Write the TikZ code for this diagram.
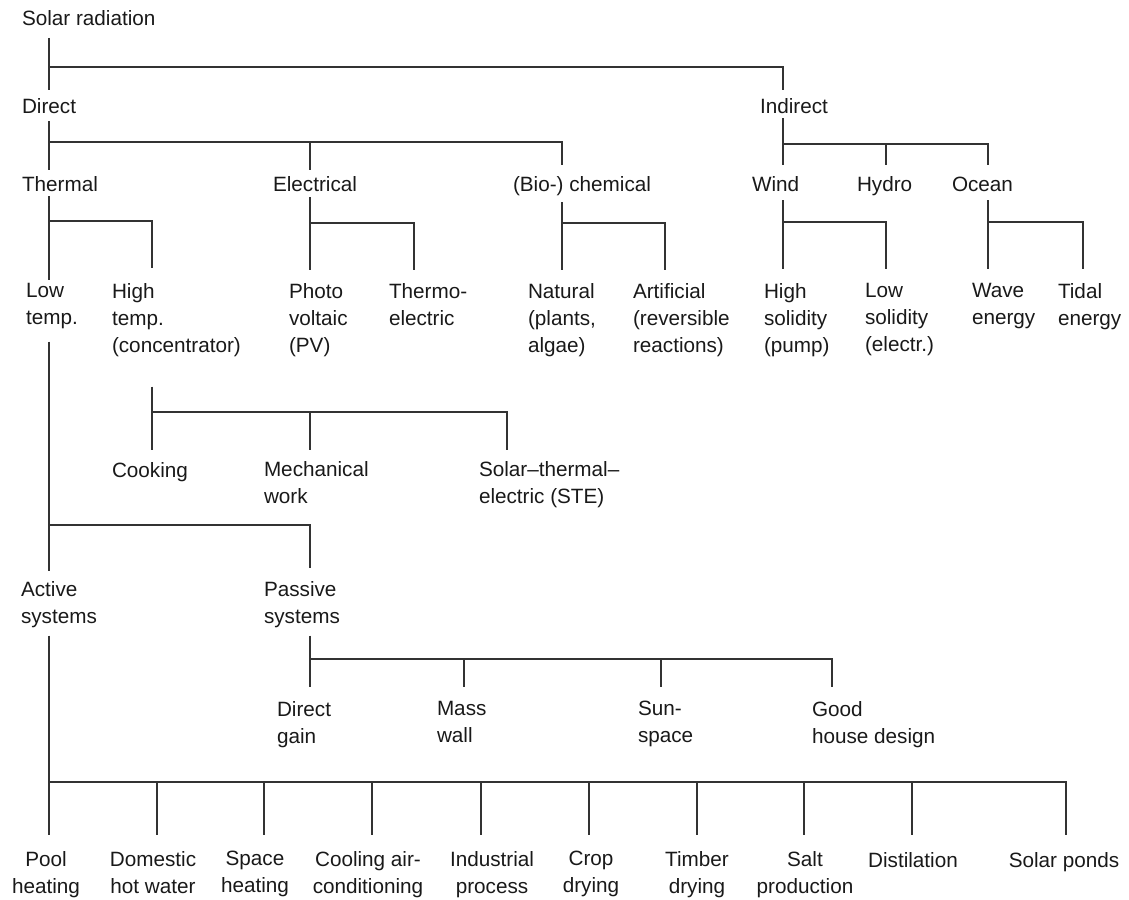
\documentclass[tikz,border=0pt]{standalone}
\usepackage{fontspec}
\setmainfont{Liberation Sans}
\tikzset{
  item/.style={
    anchor=north west,
    inner sep=0pt,
    outer sep=0pt,
    align=left,
    font=\fontsize{20.7}{27}\selectfont,
    text=black!90,
    execute at begin node={\rule{0pt}{15.5pt}},
    execute at end node={\rule[-5pt]{0pt}{5pt}}
  },
  leaf/.style={item, anchor=north, align=center},
  branch/.style={draw=black!80, line width=1.4pt}
}
% \Item[style]{name}{stem x}{text x}{top y}{text}
\newcommand{\Item}[6][item]{%
  \node[#1] (#2) at (#4,#5) {#6};
  \coordinate (#2-s) at (#3,#5);
}
% \Fork{parent}{stem gap}{bar y}{child/gap,...}
\newcommand{\Fork}[4]{%
  \draw[branch, shorten <=#2pt] (#1.south -| #1-s) -- (#1-s |- 0,#3);
  \foreach \kid/\gap in {#4} {
    \draw[branch, shorten >=\gap pt] (#1-s |- 0,#3) -| (\kid.north -| \kid-s);
  }
}

\begin{document}
\begin{tikzpicture}[x=1pt, y=-1pt]
  \useasboundingbox (0,0) rectangle (1129,899);

  % levels 0 and 1
  \Item{sr}{49}{22}{10.5}{Solar radiation}
  \Item{dir}{49}{22}{97.5}{Direct}
  \Item{ind}{783}{760}{97.5}{Indirect}

  % level 2
  \foreach \nm/\sx/\tx/\txt in {th/49/22/Thermal, el/310/273/Electrical,
      bio/562/513/{(Bio-) chemical}, wind/783/752/Wind, hyd/886/857/Hydro,
      oce/988/952/Ocean}
    {\Item{\nm}{\sx}{\tx}{175.5}{\txt}}

  % level 3
  \foreach \nm/\sx/\tx/\txt in {low/49/26/{Low\\temp.},
      high/152/112/{High\\temp.\\(concentrator)},
      pv/310/289/{Photo\\voltaic\\(PV)}, te/414/389/{Thermo-\\electric},
      nat/562/528/{Natural\\(plants,\\algae)},
      art/665/633/{Artificial\\(reversible\\reactions)},
      hs/783/764/{High\\solidity\\(pump)}, ls/886/865/{Low\\solidity\\(electr.)},
      wav/988/972/{Wave\\energy}, tid/1083/1058/{Tidal\\energy}}
    {\Item{\nm}{\sx}{\tx}{283.5}{\txt}}

  % high temperature uses
  \Item{cook}{152}{112}{461.5}{Cooking}
  \Item{mech}{310}{264}{461.5}{Mechanical\\work}
  \Item{ste}{507}{479}{461.5}{Solar–thermal–\\electric (STE)}

  % low temperature systems
  \Item{act}{49}{21}{581.5}{Active\\systems}
  \Item{pas}{310}{264}{581.5}{Passive\\systems}

  \foreach \nm/\sx/\tx/\txt in {dg/310/277/{Direct\\gain}, mw/464/437/{Mass\\wall},
      ss/661/638/{Sun-\\space}, gh/832/812/{Good\\house design}}
    {\Item{\nm}{\sx}{\tx}{701.5}{\txt}}

  \foreach \nm/\sx/\cx/\txt in {pool/49/46/{Pool\\heating},
      dhw/157/153/{Domestic\\hot water}, sh/264/255/{Space\\heating},
      cool/372/368/{Cooling air-\\conditioning}, ip/481/492/{Industrial\\process},
      crop/589/591/{Crop\\drying}, tim/697/697/{Timber\\drying},
      salt/804/805/{Salt\\production}, dist/912/913/{Distilation},
      pond/1066/1064/{Solar ponds}}
    {\Item[leaf]{\nm}{\sx}{\cx}{851.5}{\txt}}

  % connectors
  \Fork{sr}{7}{67}{dir/7.5, ind/7.5}
  \Fork{dir}{3}{142}{th/5.5, el/5.5, bio/10.5}
  \Fork{ind}{0}{144}{wind/10.5, hyd/10.5, oce/10.5}
  \Fork{th}{0}{221}{low/3.5, high/15.5}
  \Fork{el}{1}{223}{pv/13.5, te/13.5}
  \Fork{bio}{6}{223}{nat/13.5, art/13.5}
  \Fork{wind}{4}{222}{hs/14.5, ls/14.5}
  \Fork{oce}{4}{222}{wav/14.5, tid/14.5}
  \Fork{low}{12}{525}{act/10.5, pas/13.5}
  \Fork{high}{29}{412}{cook/11.5, mech/11.5, ste/11.5}
  \Fork{pas}{7}{659}{dg/14.5, mw/14.5, ss/14.5, gh/14.5}
  \Fork{act}{7}{782}{pool/16.5, dhw/16.5, sh/16.5, cool/16.5, ip/16.5,
    crop/16.5, tim/16.5, salt/16.5, dist/16.5, pond/16.5}
\end{tikzpicture}
\end{document}
